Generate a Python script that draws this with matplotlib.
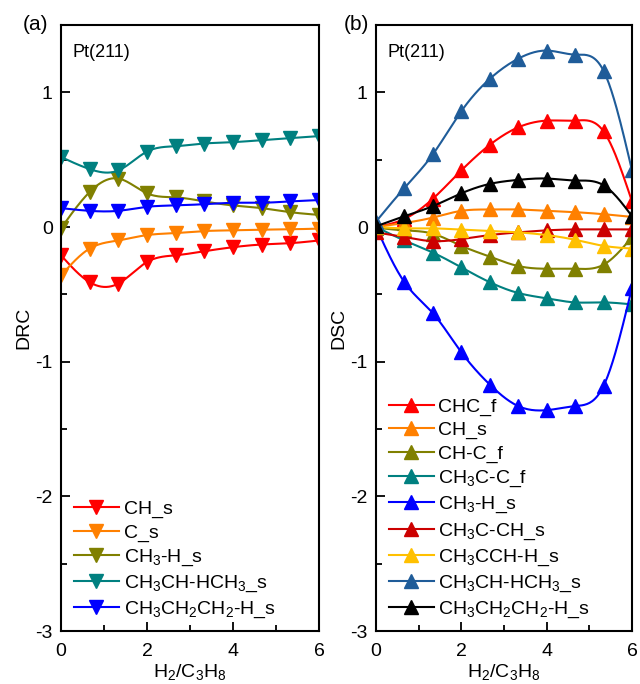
import numpy as np
import matplotlib
matplotlib.use("Agg")
import matplotlib.pyplot as plt

plt.rcParams['font.family'] = ['Liberation Sans', 'DejaVu Sans']
plt.rcParams['mathtext.fontset'] = 'custom'
plt.rcParams['mathtext.rm'] = 'Liberation Sans'
plt.rcParams['mathtext.it'] = 'Liberation Sans:italic'
plt.rcParams['axes.unicode_minus'] = False

ratio = [0, 2/3, 4/3, 2, 8/3, 10/3, 4, 14/3, 16/3, 6]

# (a) DRC
drc_labels = ["CH_s", "C_s", "CH$_3$-H_s", "CH$_3$CH-HCH$_3$_s", "CH$_3$CH$_2$CH$_2$-H_s"]
drc_colors = ["#FF0000", "#FF8000", "#808000", "#008080", "#0000FF"]
drc_ch = [-0.21, -0.41, -0.42, -0.26, -0.21, -0.18, -0.15, -0.13, -0.12, -0.10]
drc_c = [-0.36, -0.16, -0.10, -0.06, -0.045, -0.03, -0.025, -0.02, -0.017, -0.012]
drc_ch3h = [-0.01, 0.26, 0.36, 0.25, 0.22, 0.19, 0.16, 0.14, 0.11, 0.09]
drc_ch3chhch3 = [0.52, 0.43, 0.42, 0.56, 0.60, 0.62, 0.63, 0.645, 0.66, 0.675]
drc_c3h7h = [0.14, 0.12, 0.12, 0.15, 0.16, 0.17, 0.18, 0.18, 0.19, 0.20]
drc_series = [drc_ch, drc_c, drc_ch3h, drc_ch3chhch3, drc_c3h7h]

# (b) DSC
dsc_labels = ["CHC_f", "CH_s", "CH-C_f", "CH$_3$C-C_f", "CH$_3$-H_s", "CH$_3$C-CH_s",
              "CH$_3$CCH-H_s", "CH$_3$CH-HCH$_3$_s", "CH$_3$CH$_2$CH$_2$-H_s"]
dsc_colors = ["#FF0000", "#FF8000", "#808000", "#008080", "#0000FF", "#CC0000",
              "#FFC000", "#1F5C99", "#000000"]
dsc_chc = [0.0, 0.06, 0.21, 0.42, 0.61, 0.74, 0.79, 0.79, 0.71, 0.19]
dsc_ch = [0.0, 0.03, 0.07, 0.12, 0.13, 0.13, 0.12, 0.11, 0.095, 0.075]
dsc_chc_f = [-0.005, -0.025, -0.05, -0.14, -0.22, -0.29, -0.31, -0.31, -0.28, -0.075]
dsc_ch3cc = [0.0, -0.1, -0.19, -0.30, -0.41, -0.49, -0.53, -0.56, -0.56, -0.575]
dsc_ch3h = [0.0, -0.41, -0.64, -0.93, -1.17, -1.33, -1.36, -1.33, -1.18, -0.45]
dsc_ch3cch = [-0.04, -0.075, -0.105, -0.09, -0.06, -0.04, -0.025, -0.018, -0.018, -0.018]
dsc_ch3cchh = [0.0, -0.01, -0.01, -0.02, -0.03, -0.04, -0.06, -0.095, -0.14, -0.16]
dsc_ch3chhch3 = [0.04, 0.29, 0.54, 0.86, 1.10, 1.25, 1.31, 1.28, 1.16, 0.42]
dsc_c3h7h = [0.005, 0.08, 0.155, 0.25, 0.32, 0.35, 0.36, 0.345, 0.31, 0.08]
dsc_series = [dsc_chc, dsc_ch, dsc_chc_f, dsc_ch3cc, dsc_ch3h, dsc_ch3cch,
              dsc_ch3cchh, dsc_ch3chhch3, dsc_c3h7h]


def smooth(x, y, n=200):
    # natural cubic spline through the points, only for drawing the line
    x = np.asarray(x, float); y = np.asarray(y, float)
    m = len(x); h = np.diff(x)
    A = np.zeros((m, m)); b = np.zeros(m)
    A[0, 0] = A[-1, -1] = 1
    for i in range(1, m - 1):
        A[i, i-1] = h[i-1]; A[i, i] = 2 * (h[i-1] + h[i]); A[i, i+1] = h[i]
        b[i] = 6 * ((y[i+1] - y[i]) / h[i] - (y[i] - y[i-1]) / h[i-1])
    M = np.linalg.solve(A, b)
    xs = np.linspace(x[0], x[-1], n)
    k = np.clip(np.searchsorted(x, xs) - 1, 0, m - 2)
    t1 = x[k+1] - xs; t0 = xs - x[k]
    ys = (M[k] * t1**3 + M[k+1] * t0**3) / (6 * h[k]) \
        + (y[k] / h[k] - M[k] * h[k] / 6) * t1 + (y[k+1] / h[k] - M[k+1] * h[k] / 6) * t0
    return xs, ys


def panel(ax, series, labels, colors, marker, ylabel):
    for y, lab, c in zip(series, labels, colors):
        xs, ys = smooth(ratio, y)
        ax.plot(xs, ys, color=c, lw=1.5)
        ax.plot(ratio, y, ls='none', marker=marker, ms=10.5, color=c)
        ax.plot([], [], color=c, lw=1.5, marker=marker, ms=10.5, label=lab)
    ax.set_xlim(0, 6)
    ax.set_ylim(-3, 1.5)
    ax.set_xticks([0, 2, 4, 6])
    ax.set_xticks([1, 3, 5], minor=True)
    ax.set_yticks([-3, -2, -1, 0, 1])
    ax.set_yticks([-2.5, -1.5, -0.5, 0.5], minor=True)
    ax.tick_params(direction='in', length=6.5, width=1.3, labelsize=14)
    ax.tick_params(axis='x', pad=9)
    ax.tick_params(axis='y', pad=6)
    ax.tick_params(which='minor', direction='in', length=4, width=1.3)
    for s in ax.spines.values():
        s.set_linewidth(1.5)
    ax.set_xlabel("H$_2$/C$_3$H$_8$", fontsize=14, labelpad=1)
    ax.set_ylabel(ylabel, fontsize=14, labelpad=2)
    ax.text(0.045, 0.955, "Pt(211)", transform=ax.transAxes, fontsize=13, va='center')
    ax.legend(loc='lower left', bbox_to_anchor=(0.02, 0.005), frameon=False, fontsize=14,
              handlelength=2.3, handletextpad=0.25, labelspacing=0.3, borderaxespad=0)


fig = plt.figure(figsize=(6.4, 6.84), dpi=100)
ax1 = fig.add_axes([61/640, 53/684, 258/640, 606/684])
ax2 = fig.add_axes([376/640, 53/684, 256/640, 606/684])
panel(ax1, drc_series, drc_labels, drc_colors, 'v', "DRC")
panel(ax2, dsc_series, dsc_labels, dsc_colors, '^', "DSC")
fig.text(36/640, 1 - 24/684, "(a)", fontsize=15, ha='center', va='center')
fig.text(356/640, 1 - 24/684, "(b)", fontsize=15, ha='center', va='center')
fig.savefig("out.png", dpi=100)
